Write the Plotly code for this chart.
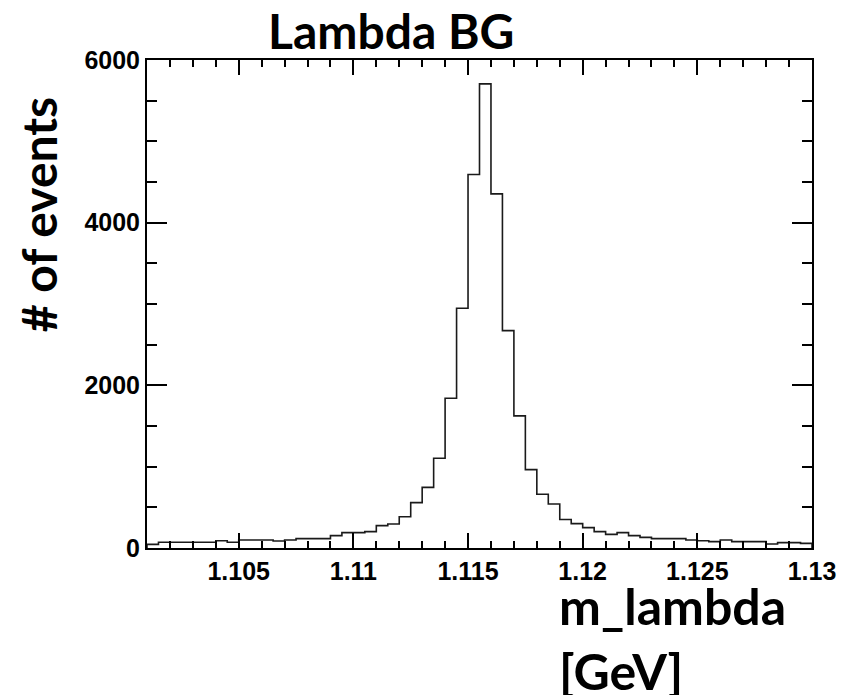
import numpy as np
import plotly.graph_objects as go

# ---------------- data ----------------
title_text = "Lambda BG"
x_title_text = "m_lambda<br>[GeV]"
y_title_text = "# of events"

x_min = 1.101
x_max = 1.130
bin_width = 0.0005

counts = [45, 70, 70, 70, 70, 70, 90, 70, 98, 98,
          98, 86, 98, 115, 115, 115, 152, 189, 189, 201,
          275, 295, 385, 558, 746, 1103, 1841, 2948, 4592, 5707,
          4354, 2673, 1624, 964, 660, 541, 350, 300, 250, 201,
          168, 189, 152, 131, 115, 115, 115, 98, 90, 78,
          98, 78, 78, 78, 49, 66, 66, 57]

x_tick_vals = [1.105, 1.11, 1.115, 1.12, 1.125, 1.13]
x_tick_text = ["1.105", "1.11", "1.115", "1.12", "1.125", "1.13"]
y_tick_vals = [0, 2000, 4000, 6000]
y_tick_text = ["0", "2000", "4000", "6000"]
y_max = 6000

# ---------------- build ----------------
edges = x_min + bin_width * np.arange(len(counts) + 1)
step_x = [edges[0]] + list(edges[:-1]) + [edges[-1]]
step_y = [0] + list(counts) + [0]

fig = go.Figure()
fig.add_trace(go.Scatter(x=step_x, y=step_y, mode="lines", line_shape="hv",
                         line=dict(color="#1a1a1a", width=1.6),
                         hoverinfo="skip", showlegend=False))
fig.add_trace(go.Scatter(x=[x_min], y=[0], xaxis="x2", yaxis="y2", mode="markers",
                         marker=dict(opacity=0), hoverinfo="skip", showlegend=False))

tick_font = dict(family="Liberation Sans Narrow, Liberation Sans, Arial", size=25,
                 color="black", weight="bold")
big_font = dict(family="Lato, Carlito, Open Sans", size=48, color="black", weight="bold")
xtitle_font = dict(family="Lato, Carlito, Open Sans", size=50, color="black", weight="bold")

x_common = dict(range=[x_min, x_max], showgrid=False, zeroline=False,
                showline=True, linecolor="black", linewidth=2,
                ticks="inside", ticklen=15, tickwidth=1.5, tickcolor="black",
                tickmode="array", tickvals=x_tick_vals,
                minor=dict(ticks="inside", ticklen=7, tickwidth=1.5, tickcolor="black",
                           tickmode="linear", tick0=1.1, dtick=0.001, showgrid=False))
y_common = dict(range=[0, y_max], showgrid=False, zeroline=False,
                showline=True, linecolor="black", linewidth=2,
                ticks="inside", ticklen=20, tickwidth=1.5, tickcolor="black",
                tickmode="array", tickvals=y_tick_vals,
                minor=dict(ticks="inside", ticklen=10, tickwidth=1.5, tickcolor="black",
                           tickmode="linear", tick0=0, dtick=500, showgrid=False))

fig.update_layout(
    width=852, height=695,
    margin=dict(l=147, r=40, t=60, b=147, pad=0),
    paper_bgcolor="white", plot_bgcolor="white",
    xaxis=dict(**x_common, ticktext=x_tick_text, tickfont=tick_font),
    yaxis=dict(**y_common, ticktext=y_tick_text, tickfont=tick_font),
    xaxis2=dict(**x_common, overlaying="x", side="top", showticklabels=False),
    yaxis2=dict(**y_common, overlaying="y", side="right", showticklabels=False),
    annotations=[
        dict(text=title_text, xref="paper", yref="paper", x=0.367, y=1.061,
             xanchor="center", yanchor="middle", showarrow=False, font=big_font),
        dict(text=y_title_text, xref="paper", yref="paper", x=-0.164, y=0.684,
             xanchor="center", yanchor="middle", textangle=-90, showarrow=False,
             font=big_font),
        dict(text=x_title_text, xref="paper", yref="paper", x=0.617, y=-0.053,
             xanchor="left", yanchor="top", align="left", showarrow=False,
             font=xtitle_font),
    ],
)

fig.write_html("out.html")
